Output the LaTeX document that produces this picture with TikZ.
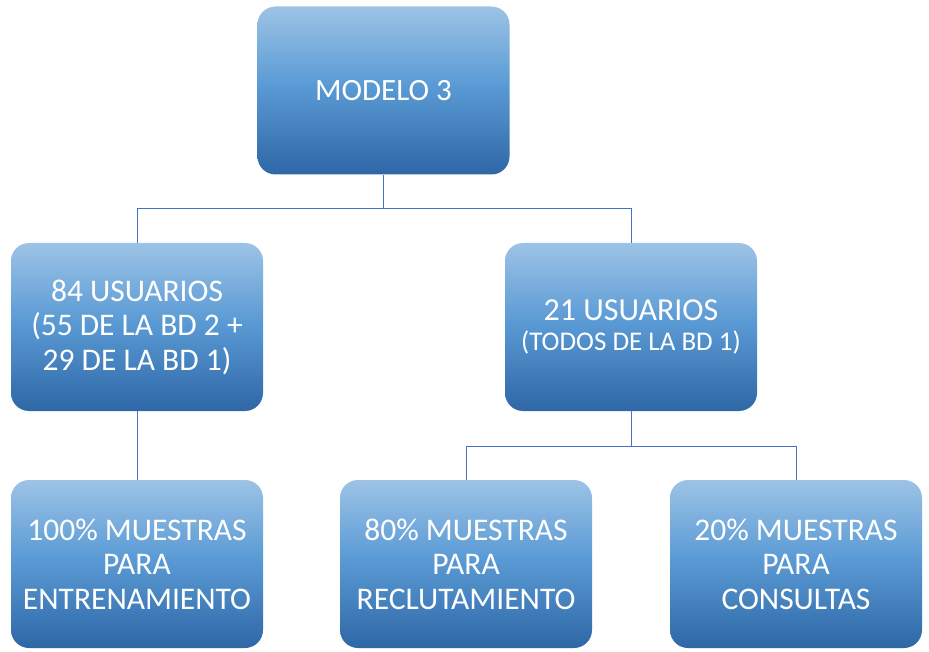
\documentclass[tikz,border=0pt]{standalone}
\usepackage{fontspec}
\setmainfont{Carlito}
\definecolor{boxlight}{HTML}{9DC3E6}
\definecolor{boxmid}{HTML}{5B9BD5}
\definecolor{boxdark}{HTML}{2E67A6}
\definecolor{linkcol}{HTML}{4472C4}
\pgfdeclareverticalshading{boxshade}{100bp}{color(0bp)=(boxdark); color(25bp)=(boxdark); color(52bp)=(boxmid); color(75bp)=(boxlight); color(100bp)=(boxlight)}
\tikzset{
  orgbox/.style={rectangle, rounded corners=18pt, minimum width=252pt, minimum height=168pt,
    shading=boxshade, text=white, align=center, inner sep=0pt,
    font=\fontsize{31.5}{34.5}\selectfont},
  link/.style={draw=linkcol, line width=1pt}
}
\begin{document}
\begin{tikzpicture}[x=1pt,y=-1pt]
\useasboundingbox (0,0) rectangle (929,652);
\node[orgbox, font=\fontsize{31}{38}\selectfont] (top) at (383.5,90.5) {MODELO 3};
\node[orgbox] (left) at (137,327) {84 USUARIOS\\(55 DE LA BD 2 +\\29 DE LA BD 1)};
\node[orgbox, font=\fontsize{32}{30}\selectfont] (right) at (631,327) {21 USUARIOS\\{\fontsize{27}{30}\selectfont (TODOS DE LA BD 1)}};
\node[orgbox] (bl) at (137,564) {100\% MUESTRAS\\PARA\\ENTRENAMIENTO};
\node[orgbox] (bm) at (466,564) {80\% MUESTRAS\\PARA\\RECLUTAMIENTO};
\node[orgbox] (br) at (796,564) {20\% MUESTRAS\\PARA\\CONSULTAS};
\coordinate (j1) at (383.5,209);
\coordinate (j2) at (631,446);
\draw[link] (top.south) -- (j1) -| (left.north);
\draw[link] (j1) -| (right.north);
\draw[link] (left.south) -- (bl.north);
\draw[link] (right.south) -- (j2) -| (bm.north);
\draw[link] (j2) -| (br.north);
\end{tikzpicture}
\end{document}
